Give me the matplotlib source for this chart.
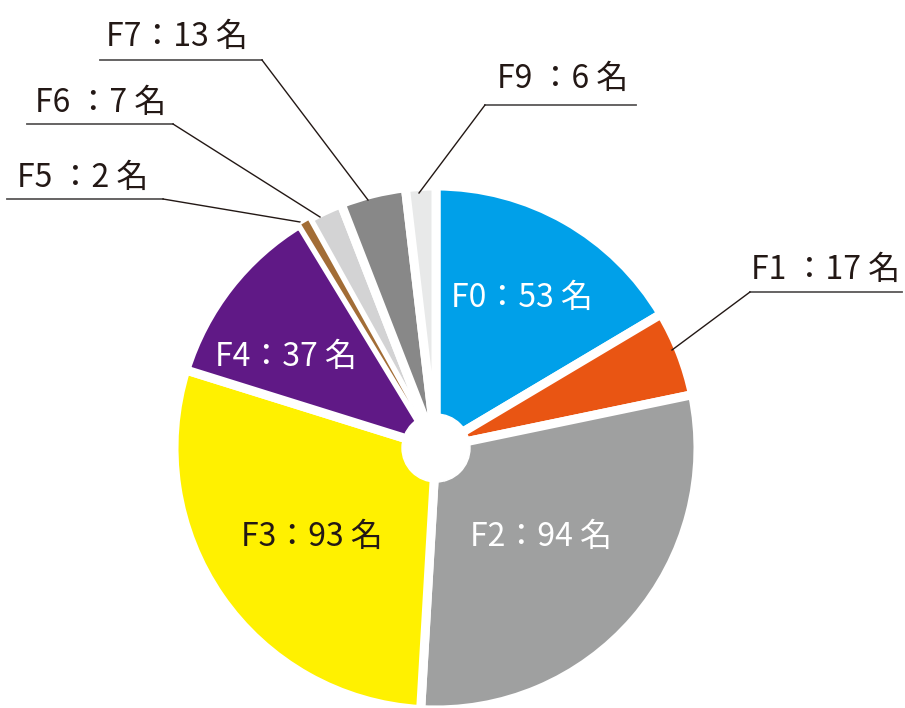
import matplotlib
matplotlib.use("Agg")
import matplotlib.pyplot as plt
from matplotlib.patches import Circle

plt.rcParams['font.family'] = ['Noto Sans CJK JP', 'DejaVu Sans']

# ---- data ----
codes  = ["F0", "F1", "F2", "F3", "F4", "F5", "F6", "F7", "F9"]
counts = [53, 17, 94, 93, 37, 2, 7, 13, 6]
colors = ["#00A0E9", "#E95513", "#9FA0A0", "#FFF100", "#601986",
          "#A26D36", "#D3D3D4", "#888888", "#E8E9E9"]
# --------------

W, H = 905, 708
CX, CY, R = 436, 448, 262   # pie centre / radius in pixels (y from top)


def py(y):
    # pixel y (from top) -> data y
    return H - y


fig = plt.figure(figsize=(W / 100, H / 100), dpi=100)
ax = fig.add_axes([0, 0, 1, 1])
ax.set_xlim(0, W)
ax.set_ylim(0, H)
ax.set_aspect("equal")
ax.axis("off")

wedges, _ = ax.pie(counts, colors=colors, startangle=90, counterclock=False,
                   radius=R, center=(CX, py(CY)),
                   wedgeprops=dict(edgecolor="white", linewidth=6.5))
# the tiny F5 slice would vanish under the white edge: thin edge, on top
w5 = wedges[codes.index("F5")]
w5.set_linewidth(1.5)
w5.set_zorder(3)
ax.set_xlim(0, W)
ax.set_ylim(0, H)
ax.add_patch(Circle((CX, py(CY)), 34, color="white", zorder=5))

# labels inside the wedges
inner = {
    "F0": ((522, 298), "white"),
    "F2": ((541, 537), "white"),
    "F3": ((312, 537), "#231815"),
    "F4": ((286, 357), "white"),
}
for code, n in zip(codes, counts):
    if code in inner:
        (x, y), c = inner[code]
        ax.text(x, py(y), f"{code}：{n} 名", color=c, fontsize=23,
                ha="center", va="center", zorder=6)

# outside labels: text centre, underline (x0, x1, y), leader (x0, x1, y1)
outer = {
    "F1": ((826, 270), (750, 902, 292), (750, 672, 350), "{c} ：{n} 名"),
    "F5": ((83, 178), (7, 163, 199), (163, 300, 222), "{c} ：{n} 名"),
    "F6": ((101, 103), (27, 173, 124), (173, 320, 217), "{c} ：{n} 名"),
    "F7": ((177, 37), (100, 262, 60), (262, 368, 200), "{c}：{n} 名"),
    "F9": ((563, 79), (485, 636, 105), (485, 419, 193), "{c} ：{n} 名"),
}
for code, n in zip(codes, counts):
    if code not in outer:
        continue
    (tx, ty), (ux0, ux1, uy), (lx0, lx1, ly1), fmt = outer[code]
    ax.text(tx, py(ty), fmt.format(c=code, n=n), color="#231815",
            fontsize=23, ha="center", va="center")
    ax.plot([ux0, ux1], [py(uy), py(uy)], color="#595757", lw=1.3)
    ax.plot([lx0, lx1], [py(uy), py(ly1)], color="#231815", lw=1.0)

fig.savefig("out.png", dpi=100)
